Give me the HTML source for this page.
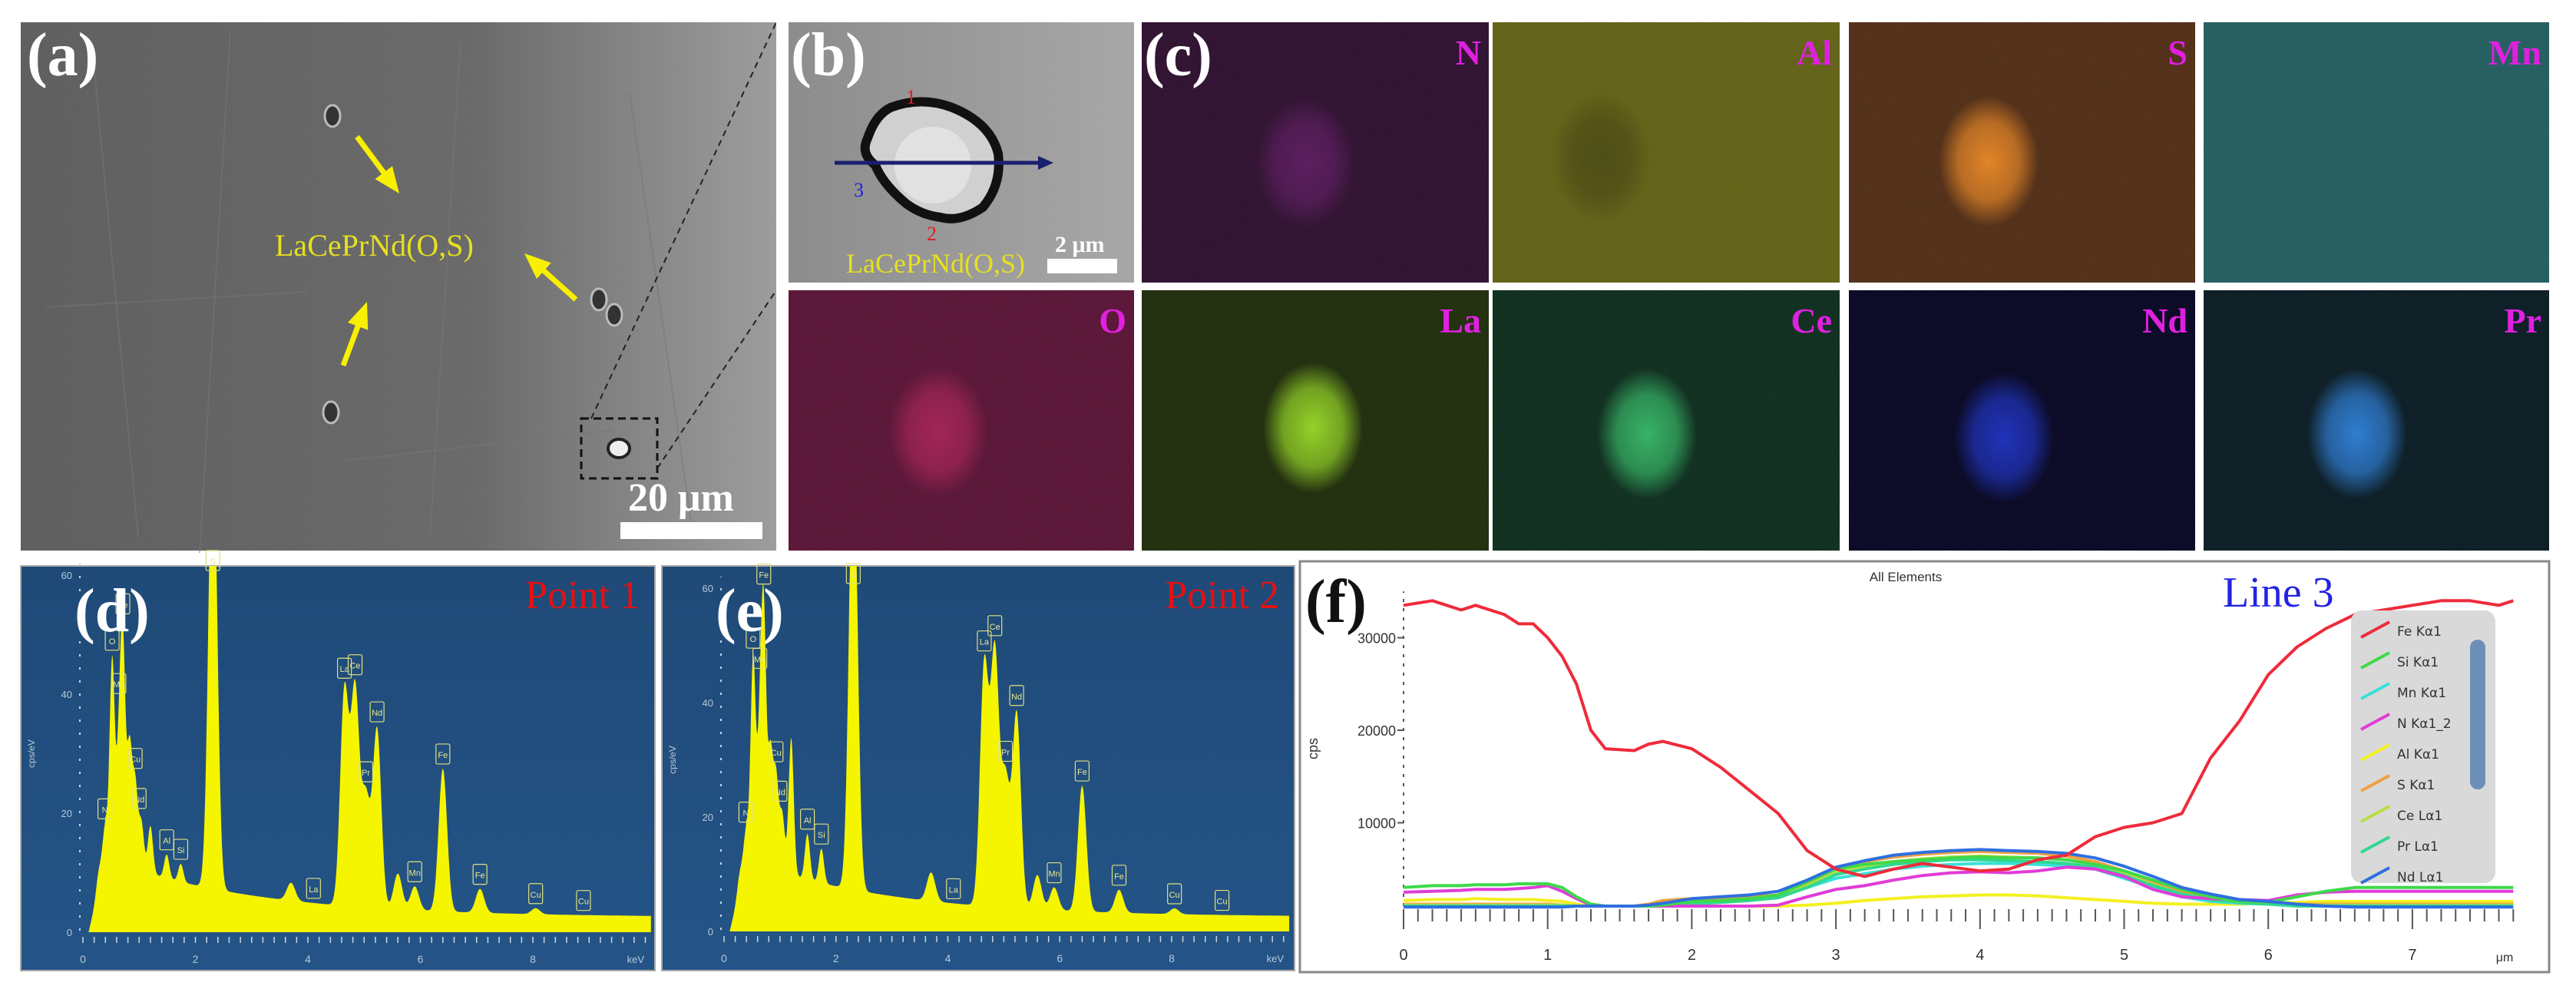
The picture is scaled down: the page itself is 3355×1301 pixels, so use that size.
<!DOCTYPE html>
<html><head><meta charset="utf-8"><style>
html,body{margin:0;padding:0;background:#fff;}
svg{display:block;}
</style></head><body>
<svg id="fig" width="3355" height="1301" viewBox="0 0 3355 1301" xmlns="http://www.w3.org/2000/svg">
<defs>
<filter id="noise" x="0" y="0" width="100%" height="100%"><feTurbulence type="fractalNoise" baseFrequency="0.9" numOctaves="1" seed="3"/><feColorMatrix type="matrix" values="0 0 0 0 1  0 0 0 0 1  0 0 0 0 1  0 0 0 0.35 -0.05"/></filter>
<linearGradient id="semA" x1="0" x2="1" y1="0" y2="0"><stop offset="0" stop-color="#5b5b5b"/><stop offset="0.6" stop-color="#666"/><stop offset="1" stop-color="#9a9a9a"/></linearGradient>
<linearGradient id="semB" x1="0" x2="1"><stop offset="0" stop-color="#8a8a8a"/><stop offset="1" stop-color="#a5a5a5"/></linearGradient>
<linearGradient id="edsBg" x1="0" x2="0" y1="0" y2="1"><stop offset="0" stop-color="#1f4a78"/><stop offset="1" stop-color="#245487"/></linearGradient>
</defs>
<g id="root"></g>
</svg>
<script>
// ---------- Line scan (f) data ----------
const lineX = [0,0.2,0.4,0.5,0.7,0.8,0.9,1.0,1.1,1.2,1.3,1.4,1.6,1.7,1.8,2.0,2.2,2.4,2.6,2.8,3.0,3.2,3.4,3.6,3.8,4.0,4.2,4.4,4.6,4.8,5.0,5.2,5.4,5.6,5.8,6.0,6.2,6.4,6.6,6.8,7.0,7.2,7.4,7.6,7.7];
const feVals = [33500,34000,33000,33500,32500,31500,31500,30000,28000,25000,20000,18000,17800,18500,18800,18000,16000,13500,11000,7000,5000,4200,5000,5600,5200,4800,5000,6000,6500,8500,9500,10000,11000,17000,21000,26000,29000,31000,32500,33000,33500,34000,34000,33500,34000];
const siVals = [3000,3200,3200,3300,3300,3400,3400,3400,3000,2000,1200,1000,1000,1000,1100,1500,1600,1800,2200,3600,5000,5500,5800,6000,6200,6300,6200,6200,6000,5500,4800,3800,2800,2000,1500,1400,2000,2600,3000,3000,3000,3000,3000,3000,3000];
const mnVals = [1200,1200,1200,1200,1200,1200,1200,1200,1100,1000,1000,1000,1000,1000,1100,1300,1400,1600,2000,3000,4000,4500,5000,5300,5500,5600,5600,5500,5300,5000,4000,3000,2000,1500,1300,1200,1200,1200,1200,1200,1200,1200,1200,1200,1200];
const nVals = [2500,2600,2700,2800,2800,2900,3000,3200,2600,1800,1100,1000,1000,1000,1000,1000,1000,1000,1100,2000,2800,3200,3800,4300,4600,4700,4600,4800,5200,5000,4200,2800,2000,1800,1700,1600,2200,2500,2600,2600,2600,2600,2600,2600,2600];
const alVals = [1600,1700,1700,1800,1700,1700,1700,1600,1500,1200,1000,1000,1000,1000,1000,1000,1000,1000,1000,1100,1300,1600,1800,2000,2100,2200,2200,2100,1900,1700,1500,1300,1200,1200,1200,1300,1400,1500,1500,1500,1500,1500,1500,1500,1500];
const sVals = [1200,1200,1200,1200,1200,1200,1200,1200,1100,1000,1000,1000,1000,1200,1600,1800,1800,2000,2200,3500,5000,5800,6300,6600,6800,6900,6800,6700,6400,5800,4800,3600,2500,1800,1500,1300,1200,1200,1200,1200,1200,1200,1200,1200,1200];
const ceVals = [1100,1100,1100,1100,1100,1100,1100,1100,1100,1000,1000,1000,1000,1000,1100,1300,1500,1700,2000,3200,4600,5300,5800,6100,6300,6400,6300,6200,6000,5500,4500,3300,2300,1700,1400,1200,1100,1100,1100,1100,1100,1100,1100,1100,1100];
const prVals = [1000,1000,1000,1000,1000,1000,1000,1000,1000,1000,1000,1000,1000,1000,1000,1200,1400,1600,1900,3000,4400,5000,5500,5800,6000,6000,5900,5800,5600,5200,4300,3200,2300,1700,1400,1200,1000,1000,1000,1000,1000,1000,1000,1000,1000];
const ndVals = [900,900,900,900,900,900,900,900,900,1000,1000,1000,1000,1100,1300,1800,2000,2200,2600,3800,5200,5900,6500,6800,7000,7100,7000,6900,6700,6200,5300,4200,3000,2300,1700,1500,1200,1000,900,900,900,900,900,900,900];
const lineNames = ["Fe Kα1","Si Kα1","Mn Kα1","N Kα1_2","Al Kα1","S Kα1","Ce Lα1","Pr Lα1","Nd Lα1"];
const lineColors = ["#ee2b3b","#3ed94a","#39e0d8","#e03cd8","#f4f020","#f0a040","#b6e040","#30d890","#2f6fe0"];
const lineTicksY = [10000,20000,30000];
const lineTicksX = [0,1,2,3,4,5,6,7];

// ---------- EDS spectra data ----------
const peaksD_E = [0.28,0.39,0.52,0.64,0.71,0.83,0.93,1.04,1.2,1.49,1.74,2.31,3.7,4.65,4.84,5.03,5.23,5.6,5.9,6.4,7.06,8.05];
const peaksD_H = [3,6,34,16,36,20,14,8,8,4,3,80,3,36,36,18,30,6,4,24,4,1];
const peaksE_E = [0.28,0.39,0.52,0.64,0.71,0.83,0.93,1.04,1.2,1.49,1.74,2.31,3.7,4.65,4.84,5.03,5.23,5.6,5.9,6.4,7.06,8.05];
const peaksE_H = [3,6,36,20,42,20,16,10,24,8,6,80,5,42,44,22,34,6,4,22,4,1];
const edsTicksY = [0,20,40,60];
const edsTicksX = [0,2,4,6,8];
const labelsD = [["Fe",0.71],["O",0.52],["Cu",0.93],["Mn",0.64],["Nd",1.0],["Al",1.49],["Si",1.74],["S",2.31],["La",4.65],["Ce",4.84],["Nd",5.23],["Pr",5.03],["Fe",6.4],["Mn",5.9],["Fe",7.06],["Cu",8.05],["La",4.1],["Cu",8.9],["N",0.39]];
</script>
<script>
const NS="http://www.w3.org/2000/svg";
const root=document.getElementById('root');
function mk(tag,attrs,parent){const e=document.createElementNS(NS,tag);for(const k in attrs)e.setAttribute(k,attrs[k]);(parent||root).appendChild(e);return e;}
function txt(s,attrs,parent){const e=mk('text',attrs,parent);e.textContent=s;return e;}

// ---------- Panel (a) SEM ----------
let g=mk('g',{});


mk('rect',{x:27,y:29,width:984,height:688,fill:'url(#semA)'},g);
mk('rect',{x:27,y:29,width:984,height:688,filter:'url(#noise)',opacity:0.25},g);
[[120,60,180,700],[300,40,260,720],[600,50,560,700],[820,120,900,680],[60,400,400,380],[450,600,800,560]].forEach(l=>mk('line',{x1:l[0],y1:l[1],x2:l[2],y2:l[3],stroke:'#777',"stroke-width":2,opacity:0.5},g));
[[433,151],[431,537],[780,390],[800,410]].forEach(p=>mk('ellipse',{cx:p[0],cy:p[1],rx:10,ry:14,fill:'#333',stroke:'#bbb',"stroke-width":3},g));
let lab=txt('(a)',{x:35,y:98,"font-family":"Liberation Serif, serif","font-weight":"bold","font-size":80,fill:'#fff'},g);


let inc=txt('LaCePrNd(O,S)',{x:358,y:333,"font-family":"Liberation Serif, serif","font-size":40,fill:'#e6e020'},g);


function arrow(x1,y1,x2,y2){const a=Math.atan2(y2-y1,x2-x1);mk('line',{x1,y1,x2:x2-18*Math.cos(a),y2:y2-18*Math.sin(a),stroke:'#f8f000',"stroke-width":7},g);
 const p=[[x2,y2],[x2-34*Math.cos(a)+14*Math.sin(a),y2-34*Math.sin(a)-14*Math.cos(a)],[x2-34*Math.cos(a)-14*Math.sin(a),y2-34*Math.sin(a)+14*Math.cos(a)]];
 mk('polygon',{points:p.map(q=>q.join(',')).join(' '),fill:'#f8f000'},g);}
arrow(465,178,520,252);arrow(750,390,683,330);arrow(447,476,478,393);
mk('rect',{x:757,y:545,width:99,height:78,fill:'none',stroke:'#111',"stroke-width":3,"stroke-dasharray":"10,6"},g);
mk('ellipse',{cx:806,cy:584,rx:14,ry:12,fill:'#eee',stroke:'#222',"stroke-width":4},g);
mk('line',{x1:770,y1:545,x2:1011,y2:29,stroke:'#222',"stroke-width":2,"stroke-dasharray":"8,6"});
mk('line',{x1:856,y1:610,x2:1011,y2:378,stroke:'#222',"stroke-width":2,"stroke-dasharray":"8,6"});
mk('rect',{x:808,y:680,width:185,height:22,fill:'#fff'},g);
let sb=txt('20 μm',{x:818,y:665,"font-family":"Liberation Serif, serif","font-weight":"bold","font-size":52,fill:'#fff'},g);



// ---------- Panel (b) ----------
g=mk('g',{});


mk('rect',{x:1027,y:29,width:450,height:339,fill:'url(#semB)'},g);
mk('rect',{x:1027,y:29,width:450,height:339,filter:'url(#noise)',opacity:0.2},g);
mk('path',{d:"M1160 140 Q1200 125 1240 140 Q1290 160 1300 200 Q1305 240 1280 270 Q1250 290 1225 283 Q1200 280 1180 265 Q1150 240 1140 215 Q1120 200 1130 180 Q1140 150 1160 140 Z",fill:'#d0d0d0',stroke:'#111',"stroke-width":12},g);
mk('ellipse',{cx:1215,cy:215,rx:50,ry:50,fill:'#e8e8e8',opacity:0.7},g);
mk('line',{x1:1087,y1:212,x2:1360,y2:212,stroke:'#1a1f6e',"stroke-width":5},g);
mk('polygon',{points:"1372,212 1352,203 1352,221",fill:'#1a1f6e'},g);
txt('1',{x:1180,y:135,"font-family":"Liberation Serif, serif","font-size":26,fill:'#e02020'},g);
txt('2',{x:1207,y:313,"font-family":"Liberation Serif, serif","font-size":26,fill:'#e02020'},g);
txt('3',{x:1112,y:256,"font-family":"Liberation Serif, serif","font-size":26,fill:'#2020e0'},g);
lab=txt('(b)',{x:1030,y:98,"font-family":"Liberation Serif, serif","font-weight":"bold","font-size":80,fill:'#fff'},g);


txt('LaCePrNd(O,S)',{x:1102,y:355,"font-family":"Liberation Serif, serif","font-size":36,fill:'#e6e020'},g);
mk('rect',{x:1364,y:337,width:91,height:19,fill:'#fff'},g);
txt('2 μm',{x:1374,y:328,"font-family":"Liberation Serif, serif","font-weight":"bold","font-size":30,fill:'#fff'},g);

// ---------- Element maps (c) ----------
const maps=[
 ['N',1487,29,'#2b0c2c','#7a2080',0.55,[1700,212]],
 ['Al',1944,29,'#5e5e12','#30300a',0.5,[2085,205]],
 ['S',2408,29,'#4e2a12','#e08020',1,[2590,210]],
 ['Mn',2870,29,'#1f5a5c','#1f5a5c',0,[3050,200]],
 ['O',1027,378,'#561032','#b0205a',0.8,[1222,562]],
 ['La',1487,378,'#1c2a08','#90d020',1,[1710,557]],
 ['Ce',1944,378,'#0a2a1a','#30b060',1,[2145,565]],
 ['Nd',2408,378,'#030320','#1a30c8',0.9,[2610,570]],
 ['Pr',2870,378,'#061820','#2878d0',1,[3070,565]]];
const mapsW=[452,452,451,450,450,452,452,451,450];
maps.forEach((m,i)=>{
 const gg=mk('g',{});
 
 
 const w=mapsW[i],h=339;
 mk('rect',{x:m[1],y:m[2],width:w,height:h,fill:m[3]},gg);
 const gid='rg'+i;const rg=mk('radialGradient',{id:gid},root.ownerSVGElement.querySelector('defs'));
 mk('stop',{offset:0,"stop-color":m[4],"stop-opacity":m[5]},rg);mk('stop',{offset:0.6,"stop-color":m[4],"stop-opacity":m[5]*0.7},rg);mk('stop',{offset:1,"stop-color":m[4],"stop-opacity":0},rg);
 const cp=mk('clipPath',{id:'mc'+i},gg);mk('rect',{x:m[1],y:m[2],width:w,height:h},cp);
 mk('ellipse',{cx:m[6][0],cy:m[6][1],rx:65,ry:85,fill:'url(#'+gid+')',"clip-path":'url(#mc'+i+')'},gg);
 mk('rect',{x:m[1],y:m[2],width:w,height:h,filter:'url(#noise)',opacity:0.3},gg);
 txt(m[0],{x:m[1]+w-10,y:m[2]+55,"text-anchor":"end","font-family":"Liberation Serif, serif","font-weight":"bold","font-size":46,fill:'#e020e0'},gg);
});
lab=txt('(c)',{x:1490,y:98,"font-family":"Liberation Serif, serif","font-weight":"bold","font-size":80,fill:'#fff'});



// ---------- EDS spectra ----------
function spectrum(name,x0,y0,w,h,ax0,ax8,ay0,aPer,peE,peH,label,pt){
 const gg=mk('g',{});
 
 
 mk('rect',{x:x0,y:y0,width:w,height:h,fill:'url(#edsBg)',stroke:'#aaa',"stroke-width":2},gg);
 const sx=e=>ax0+(ax8-ax0)*e/8, sy=v=>ay0-v*aPer;
 const bg=e=> e<0.1?0:(e<0.4?(e-0.1)/0.3*12:2.5+10*Math.exp(-(e-0.4)/2.6));
 const val=e=>{let v=bg(e);for(let i=0;i<peE.length;i++){const wd=peE[i]<2?0.045:0.075;v+=peH[i]*Math.exp(-((e-peE[i])**2)/(2*wd*wd));}return Math.min(v,64);};
 let d='M'+sx(0.05)+' '+sy(0);
 for(let e=0.05;e<=10.1;e+=0.01)d+=' L'+sx(e).toFixed(1)+' '+sy(val(e)).toFixed(1);
 d+=' L'+sx(10.1)+' '+sy(0)+' Z';
 const cp=mk('clipPath',{id:'cp'+name},gg);mk('rect',{x:x0,y:y0,width:w,height:h},cp);
 const sp=mk('path',{d,fill:'#f5f500',"clip-path":'url(#cp'+name+')'},gg);
 
 
 mk('line',{x1:ax0-4,y1:sy(0)-2,x2:ax0-4,y2:sy(62),stroke:'#c8d4e4',"stroke-width":2,"stroke-dasharray":"3,14"},gg);
 edsTicksY.forEach(t=>{txt(String(t),{x:ax0-14,y:sy(t)+5,"font-family":"Liberation Sans, sans-serif","font-size":13,fill:'#b8c8d8',"text-anchor":"end"},gg);});
 for(let e=0;e<=10;e+=0.2)mk('line',{x1:sx(e),y1:sy(0)+6,x2:sx(e),y2:sy(0)+14,stroke:'#c8d4e4',"stroke-width":1.5},gg);
 edsTicksX.forEach(t=>txt(String(t),{x:sx(t),y:sy(0)+40,"font-family":"Liberation Sans, sans-serif","font-size":14,fill:'#b8c8d8',"text-anchor":"middle"},gg));
 txt('keV',{x:x0+w-14,y:sy(0)+40,"font-family":"Liberation Sans, sans-serif","font-size":13,fill:'#b8c8d8',"text-anchor":"end"},gg);
 txt('cps/eV',{x:0,y:0,transform:`translate(${x0+18},${sy(30)}) rotate(-90)`,"font-family":"Liberation Sans, sans-serif","font-size":12,fill:'#b8c8d8',"text-anchor":"middle"},gg);
 labelsD.forEach(l=>{const v=val(l[1]);const yy=sy(Math.min(v,60))-30;
  mk('rect',{x:sx(l[1])-9,y:yy-2,width:18,height:26,fill:'none',stroke:'#e0e080',"stroke-width":1.2,rx:2},gg);
  txt(l[0],{x:sx(l[1]),y:yy+16,"font-family":"Liberation Sans, sans-serif","font-size":11,fill:'#e8e890',"text-anchor":"middle"},gg);});
 const L=txt(label,{x:x0+70,y:y0+85,"font-family":"Liberation Serif, serif","font-weight":"bold","font-size":80,fill:'#fff'},gg);
 
 
 txt(pt,{x:x0+w-20,y:y0+55,"text-anchor":"end","font-family":"Liberation Serif, serif","font-size":52,fill:'#e81010'},gg);
}
spectrum('eds-point-1',27,737,826,527,108,694,1214,7.75,peaksD_E,peaksD_H,'(d)','Point 1');
spectrum('eds-point-2',862,737,824,527,943,1526,1213,7.45,peaksE_E,peaksE_H,'(e)','Point 2');

// ---------- Line scan (f) ----------
g=mk('g',{});


mk('rect',{x:1693,y:731,width:1627,height:535,fill:'#fff',stroke:'#888',"stroke-width":3},g);
const fx=v=>1828+v*187.7, fy=v=>1192-v*0.01205;
mk('line',{x1:fx(0),y1:fy(0)-12,x2:fx(0),y2:fy(35000),stroke:'#555',"stroke-width":2,"stroke-dasharray":"4,8"},g);
lineTicksY.forEach(t=>{txt(String(t),{x:fx(0)-10,y:fy(t)+7,"text-anchor":"end","font-family":"Liberation Sans, sans-serif","font-size":18,fill:'#333'},g);mk('line',{x1:fx(0)-8,y1:fy(t),x2:fx(0),y2:fy(t),stroke:'#555',"stroke-width":2},g);});
for(let v=0;v<=7.7;v+=0.1)mk('line',{x1:fx(v),y1:fy(0)-8,x2:fx(v),y2:fy(0)+(Math.abs(v-Math.round(v))<0.01?18:8),stroke:'#555',"stroke-width":2},g);
lineTicksX.forEach(t=>txt(String(t),{x:fx(t),y:fy(0)+58,"text-anchor":"middle","font-family":"Liberation Sans, sans-serif","font-size":20,fill:'#333'},g));
txt('μm',{x:3262,y:1252,"text-anchor":"middle","font-family":"Liberation Sans, sans-serif","font-size":16,fill:'#333'},g);
txt('cps',{x:0,y:0,transform:'translate(1716,975) rotate(-90)',"text-anchor":"middle","font-family":"Liberation Sans, sans-serif","font-size":18,fill:'#333'},g);
txt('All Elements',{x:2482,y:757,"text-anchor":"middle","font-family":"Liberation Sans, sans-serif","font-size":17,fill:'#333'},g);
const series=[alVals,mnVals,sVals,ceVals,prVals,nVals,siVals,ndVals,feVals];
const sIdx=[4,2,5,6,7,3,1,8,0];
series.forEach((vals,k)=>{const i=sIdx[k];let d='';vals.forEach((v,j)=>d+=(j?' L':'M')+fx(lineX[j]).toFixed(1)+' '+fy(v).toFixed(1));
 const p=mk('path',{d,fill:'none',stroke:lineColors[i],"stroke-width":4,"stroke-linejoin":"round"},g);
 
 });
const lb=txt('(f)',{x:1700,y:810,"font-family":"Liberation Serif, serif","font-weight":"bold","font-size":80,fill:'#111'},g);


txt('Line 3',{x:2895,y:790,"font-family":"Liberation Serif, serif","font-size":56,fill:'#2424e0'},g);
const lg=mk('g',{},g);


mk('rect',{x:3062,y:795,width:188,height:355,rx:14,fill:'#d9d9d9'},lg);
mk('rect',{x:3217,y:833,width:20,height:195,rx:10,fill:'#6b8fb8'},lg);
lineNames.forEach((n,i)=>{const y=820+i*40;
 const it=mk('g',{},lg);
 
 
 mk('line',{x1:3075,y1:y+10,x2:3112,y2:y-10,stroke:lineColors[i],"stroke-width":4},it);
 txt(n,{x:3122,y:y+8,"font-family":"DejaVu Sans, sans-serif","font-size":17,fill:'#333'},it);});
</script>
</body></html>
